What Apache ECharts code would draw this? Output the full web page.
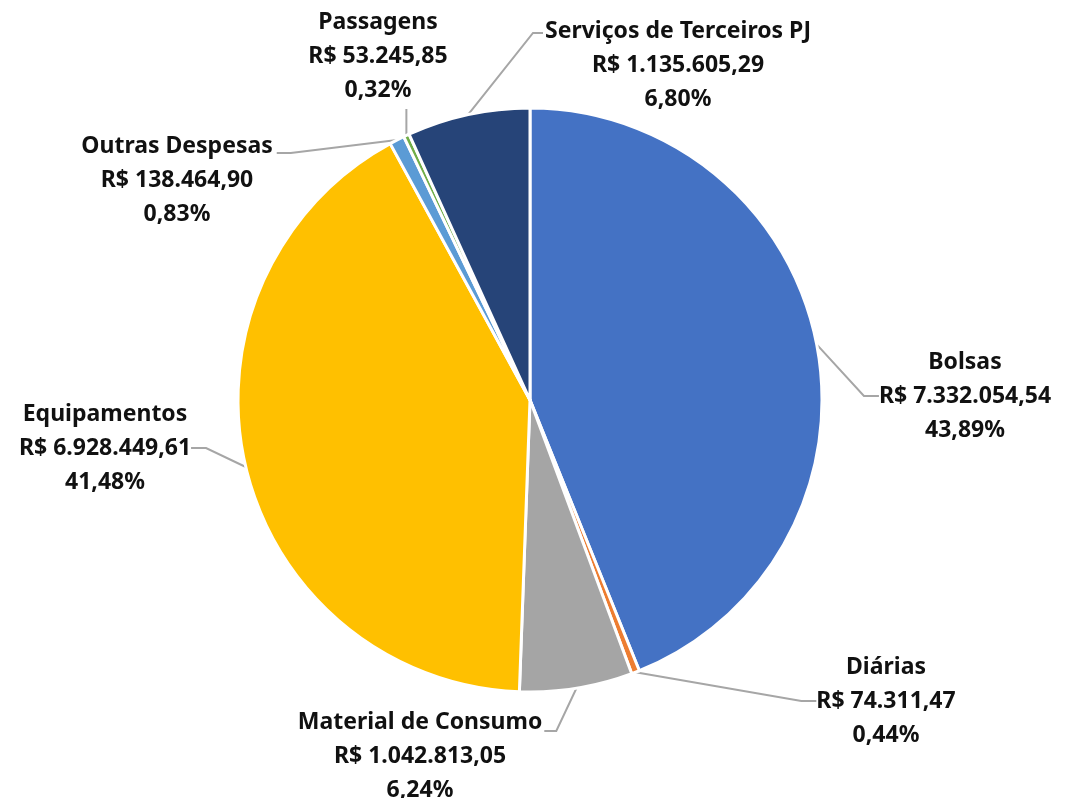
<!DOCTYPE html>
<html>
<head>
<meta charset="utf-8">
<script src="https://cdn.jsdelivr.net/npm/echarts@6/dist/echarts.min.js"></script>
<style>
  html, body { margin: 0; padding: 0; background: #fff; }
  #chart { width: 1078px; height: 798px; }
</style>
</head>
<body>
<div id="chart"></div>
<script>
// categorias e valores (R$)
var categorias = ['Bolsas', 'Diárias', 'Material de Consumo', 'Equipamentos', 'Outras Despesas', 'Passagens', 'Serviços de Terceiros PJ'];
var valores = [7332054.54, 74311.47, 1042813.05, 6928449.61, 138464.90, 53245.85, 1135605.29];
var cores = ['#4472C4', '#ED7D31', '#A5A5A5', '#FFC000', '#5B9BD5', '#70AD47', '#264478'];

// posicao do centro de cada rotulo (px)
var posRotulo = [[965, 396], [886, 701], [420, 756], [105, 448], [177, 180], [378, 56], [678, 65]];

function formataReal(v) {
    var partes = v.toFixed(2).split('.');
    var inteiro = partes[0].replace(/\B(?=(\d{3})+(?!\d))/g, '.');
    return 'R$ ' + inteiro + ',' + partes[1];
}

var dados = [];
for (var i = 0, len = categorias.length; i < len; i++) {
    dados.push({
        name: categorias[i],
        value: valores[i],
        itemStyle: { color: cores[i] }
    });
}

var option = {
    animation: false,
    series: [{
        type: 'pie',
        center: [530, 400],
        radius: 292,
        startAngle: 90,
        clockwise: true,
        data: dados,
        itemStyle: { borderColor: '#fff', borderWidth: 3 },
        label: {
            show: true,
            formatter: function(p) {
                return p.name + '\n' + formataReal(p.value) + '\n' + p.percent.toFixed(2).replace('.', ',') + '%';
            },
            fontFamily: 'Noto Sans',
            fontWeight: 'bold',
            fontSize: 23,
            lineHeight: 34,
            color: '#111',
            align: 'center'
        },
        labelLine: {
            show: true,
            length: 20,
            length2: 15,
            lineStyle: { color: '#A6A6A6', width: 2 }
        },
        labelLayout: function(p) {
            var pos = posRotulo[p.dataIndex];
            var res = {
                x: pos[0],
                y: pos[1],
                align: 'center',
                verticalAlign: 'middle'
            };
            var w = p.labelRect.width;
            var h = p.labelRect.height;
            var borda = p.labelLinePoints ? p.labelLinePoints[0] : null;
            if (!borda) return res;
            var esq = pos[0] - w / 2;
            var dir = pos[0] + w / 2;
            var y1;
            // linhas ligadas na primeira linha do rotulo, como no excel
            if (p.dataIndex == 2) {
                y1 = pos[1] - 25;
                res.labelLinePoints = [borda, [dir + 14, y1], [dir + 2, y1]];
            } else if (p.dataIndex == 4) {
                y1 = pos[1] - 27;
                res.labelLinePoints = [borda, [dir + 18, y1], [dir + 4, y1]];
            } else if (p.dataIndex == 5) {
                res.labelLinePoints = [borda, [borda[0], pos[1] + h / 2 + 2], [borda[0], pos[1] + h / 2 + 2]];
            } else if (p.dataIndex == 6) {
                y1 = pos[1] - 32;
                res.labelLinePoints = [borda, [esq - 12, y1], [esq - 2, y1]];
            }
            return res;
        }
    }]
};

echarts.init(document.getElementById('chart')).setOption(option);
</script>
</body>
</html>
